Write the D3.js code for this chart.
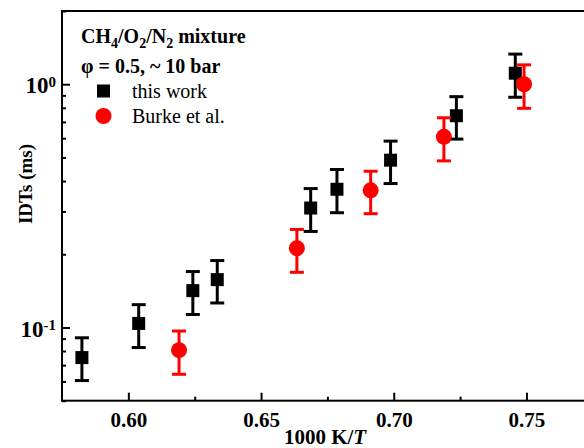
<!DOCTYPE html>
<html>
<head>
<meta charset="utf-8">
<script src="https://cdn.jsdelivr.net/npm/d3@7"></script>
<style>
  body { margin: 0; background: #fff; }
  svg { display: block; font-family: "Liberation Serif", "Times New Roman", serif; }
</style>
</head>
<body>
<svg width="584" height="448"></svg>
<script>
// this work (black squares)
const thisWorkX  = [0.5825, 0.6039, 0.6243, 0.6335, 0.6687, 0.6786, 0.6988, 0.7236, 0.7458];
const thisWorkY  = [0.0752, 0.1039, 0.1417, 0.1573, 0.3098, 0.3699, 0.4873, 0.7422, 1.110];
const thisWorkLo = [0.0605, 0.0827, 0.1131, 0.1261, 0.2482, 0.2963, 0.3905, 0.5948, 0.884];
const thisWorkHi = [0.0907, 0.1241, 0.1698, 0.1884, 0.3724, 0.4460, 0.5836, 0.8889, 1.330];

// Burke et al. (red circles)
const burkeX  = [0.6191, 0.6635, 0.6913, 0.7189, 0.7491];
const burkeY  = [0.0807, 0.2118, 0.3664, 0.6080, 1.0];
const burkeLo = [0.0642, 0.1686, 0.2936, 0.4840, 0.796];
const burkeHi = [0.0967, 0.2529, 0.4388, 0.7280, 1.201];

const xTicks = [0.60, 0.65, 0.70, 0.75];
const xMinor = [0.625, 0.675, 0.725];
const yTicks = [0.1, 1];
const yMinor = [0.05, 0.06, 0.07, 0.08, 0.09, 0.2, 0.3, 0.4, 0.5, 0.6, 0.7, 0.8, 0.9, 2];

window.onload = () => {
  const svg = d3.select("svg");
  const margin = { top: 11, left: 62, bottom: 47.3 };
  const height = +svg.attr("height");

  const x = d3.scaleLinear().domain([0.575, 0.775]).range([margin.left, margin.left + 530.8]);
  const y = d3.scaleLog().domain([0.05, 2]).range([height - margin.bottom, margin.top]);

  const x0 = x.range()[0], x1 = x.range()[1];
  const yb = y.range()[0], yt = y.range()[1];

  // frame
  svg.append("rect")
    .attr("x", x0).attr("y", yt)
    .attr("width", x1 - x0).attr("height", yb - yt)
    .attr("fill", "none").attr("stroke", "#000").attr("stroke-width", 2);

  // x axis
  const xAxisG = svg.append("g")
    .attr("transform", `translate(0,${yb})`)
    .call(d3.axisBottom(x).tickValues(xTicks).tickSize(-8).tickPadding(11).tickFormat(d3.format(".2f")));
  xAxisG.append("g").call(d3.axisBottom(x).tickValues(xMinor).tickSize(-4).tickFormat(""));
  xAxisG.selectAll(".domain").remove();
  xAxisG.selectAll("line").attr("stroke", "#000").attr("stroke-width", 2);
  xAxisG.selectAll("text")
    .attr("font-family", "Liberation Serif").attr("font-size", 21)
    .attr("font-weight", "bold").attr("fill", "#000");

  // y axis
  const yAxisG = svg.append("g")
    .attr("transform", `translate(${x0},0)`)
    .call(d3.axisLeft(y).tickValues(yTicks).tickSize(-8).tickFormat(""));
  yAxisG.append("g").call(d3.axisLeft(y).tickValues(yMinor).tickSize(-4).tickFormat(""));
  yAxisG.selectAll(".domain").remove();
  yAxisG.selectAll("line").attr("stroke", "#000").attr("stroke-width", 2);

  const yLab = svg.append("g").selectAll("text")
    .data(yTicks).join("text")
    .attr("x", 56).attr("y", d => y(d)).attr("dy", "0.4em")
    .attr("text-anchor", "end")
    .attr("font-size", 23).attr("font-weight", "bold");
  yLab.append("tspan").text("10");
  yLab.append("tspan").attr("dy", "-0.45em").attr("font-size", 15)
    .text(d => Math.round(Math.log10(d)) === 0 ? "0" : "-1");

  // axis titles
  const xt = svg.append("text")
    .attr("x", 325).attr("y", 444).attr("text-anchor", "middle")
    .attr("font-size", 21).attr("font-weight", "bold");
  xt.append("tspan").text("1000 K/");
  xt.append("tspan").attr("font-style", "italic").text("T");

  svg.append("text")
    .attr("transform", `translate(32,184) rotate(-90)`)
    .attr("text-anchor", "middle")
    .attr("font-size", 19).attr("font-weight", "bold")
    .text("IDTs (ms)");

  // error bars + markers
  const capW = 14;
  const drawSeries = (xs, ys, lo, hi, color, shape) => {
    const data = xs.map((d, i) => ({ x: d, y: ys[i], lo: lo[i], hi: hi[i] }));
    const g = svg.append("g");
    const eb = g.selectAll("g.eb").data(data).join("g").attr("class", "eb")
      .attr("stroke", color).attr("stroke-width", 3);
    eb.append("line")
      .attr("x1", d => x(d.x)).attr("x2", d => x(d.x))
      .attr("y1", d => y(d.lo)).attr("y2", d => y(d.hi));
    eb.append("line")
      .attr("x1", d => x(d.x) - capW / 2).attr("x2", d => x(d.x) + capW / 2)
      .attr("y1", d => y(d.hi)).attr("y2", d => y(d.hi));
    eb.append("line")
      .attr("x1", d => x(d.x) - capW / 2).attr("x2", d => x(d.x) + capW / 2)
      .attr("y1", d => y(d.lo)).attr("y2", d => y(d.lo));
    if (shape === "square") {
      g.selectAll("rect").data(data).join("rect")
        .attr("x", d => x(d.x) - 6.5).attr("y", d => y(d.y) - 6.5)
        .attr("width", 13).attr("height", 13).attr("fill", color);
    } else {
      g.selectAll("circle").data(data).join("circle")
        .attr("cx", d => x(d.x)).attr("cy", d => y(d.y))
        .attr("r", 8).attr("fill", color);
    }
  };
  drawSeries(thisWorkX, thisWorkY, thisWorkLo, thisWorkHi, "#000", "square");
  drawSeries(burkeX, burkeY, burkeLo, burkeHi, "#ff0000", "circle");

  // legend / annotation
  const t1 = svg.append("text").attr("x", 81).attr("y", 43)
    .attr("font-size", 20).attr("font-weight", "bold");
  t1.append("tspan").text("CH");
  t1.append("tspan").attr("dy", 5).attr("font-size", 14).text("4");
  t1.append("tspan").attr("dy", -5).text("/O");
  t1.append("tspan").attr("dy", 5).attr("font-size", 14).text("2");
  t1.append("tspan").attr("dy", -5).text("/N");
  t1.append("tspan").attr("dy", 5).attr("font-size", 14).text("2");
  t1.append("tspan").attr("dy", -5).text(" mixture");

  svg.append("text").attr("x", 81).attr("y", 73)
    .attr("font-size", 20).attr("font-weight", "bold")
    .text("\u03c6 = 0.5, ~ 10 bar");

  svg.append("rect").attr("x", 97).attr("y", 84.5).attr("width", 13).attr("height", 13).attr("fill", "#000");
  svg.append("text").attr("x", 132).attr("y", 98).attr("font-size", 20).text("this work");
  svg.append("circle").attr("cx", 103.5).attr("cy", 116).attr("r", 8).attr("fill", "#ff0000");
  svg.append("text").attr("x", 132).attr("y", 123).attr("font-size", 20).text("Burke et al.");
};
</script>
</body>
</html>
